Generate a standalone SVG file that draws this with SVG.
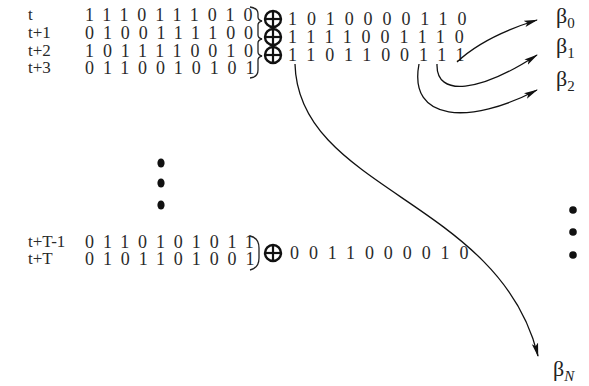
<svg xmlns="http://www.w3.org/2000/svg" width="589" height="386" viewBox="0 0 589 386">
  <style>
    .lbl { font-family: "Liberation Serif", "Times New Roman", serif; font-size: 17px; fill: #2a2a2a; }
    .bits { font-family: "Liberation Serif", "Times New Roman", serif; font-size: 18px; fill: #2a2a2a; letter-spacing: 8.9px; }
    .res { font-family: "Liberation Serif", "Times New Roman", serif; font-size: 18px; fill: #2a2a2a; letter-spacing: 9.9px; }
    .beta { font-family: "Liberation Serif", "Times New Roman", serif; font-size: 22px; fill: #222; }
    .sub { font-size: 15px; }
    .brace { fill: none; stroke: #222; stroke-width: 1.3; }
    .xor circle { fill: none; stroke: #111; stroke-width: 2.4; }
    .xor line { stroke: #111; stroke-width: 2.2; }
    .edge { fill: none; stroke: #111; stroke-width: 1.3; }
    .dot { fill: #111; }
  </style>
  <defs>
    <marker id="arrow" viewBox="0 0 14 8" refX="13" refY="4" markerWidth="14" markerHeight="8" markerUnits="userSpaceOnUse" orient="auto">
      <path d="M0,0.8 L14,4 L0,7.2 L3,4 Z" fill="#111"/>
    </marker>
  </defs>

  <!-- time-step rows of bits -->
  <g id="rows">
    <text class="lbl" x="28" y="20">t</text>
    <text class="lbl" x="28" y="38">t+1</text>
    <text class="lbl" x="28" y="56">t+2</text>
    <text class="lbl" x="28" y="73">t+3</text>
    <text class="bits" x="85" y="21">1110111010</text>
    <text class="bits" x="85" y="39">0100111100</text>
    <text class="bits" x="85" y="57">1011110010</text>
    <text class="bits" x="85" y="74">0110010101</text>

    <text class="lbl" x="28" y="247">t+T-1</text>
    <text class="lbl" x="28" y="264">t+T</text>
    <text class="bits" x="85" y="248">0110101011</text>
    <text class="bits" x="85" y="265">0101101001</text>
  </g>

  <!-- pairing braces -->
  <g id="braces">
    <path class="brace" d="M250,7 Q258,8 258,14 L258,17 Q258,20 262,21 Q258,22 258,25 L258,35 Q258,38 262,39 Q258,40 258,43 L258,52 Q258,55 262,56 Q258,57 258,60 L258,70 Q258,77 250,78"/>
    <path class="brace" d="M250,236 Q259,238 259,248 L259,258 Q259,268 250,270"/>
  </g>

  <!-- XOR operators -->
  <g id="xor1" class="xor">
    <circle cx="273" cy="19" r="8"/><line x1="265" y1="19" x2="281" y2="19"/><line x1="273" y1="11" x2="273" y2="27"/>
  </g>
  <g id="xor2" class="xor">
    <circle cx="273" cy="37" r="8"/><line x1="265" y1="37" x2="281" y2="37"/><line x1="273" y1="29" x2="273" y2="45"/>
  </g>
  <g id="xor3" class="xor">
    <circle cx="273" cy="55" r="8"/><line x1="265" y1="55" x2="281" y2="55"/><line x1="273" y1="47" x2="273" y2="63"/>
  </g>
  <g id="xorT" class="xor">
    <circle cx="273" cy="253" r="8"/><line x1="265" y1="253" x2="281" y2="253"/><line x1="273" y1="245" x2="273" y2="261"/>
  </g>

  <!-- XOR results -->
  <g id="results">
    <text class="res" x="288" y="25">1010000110</text>
    <text class="res" x="288" y="43">1111001110</text>
    <text class="res" x="288" y="61">1101100111</text>
    <text class="res" x="290" y="259">0011000010</text>
  </g>

  <!-- ellipsis dots -->
  <g id="dots-left">
    <ellipse class="dot" cx="161" cy="163" rx="3.6" ry="4.6"/>
    <ellipse class="dot" cx="161" cy="183" rx="3.6" ry="4.6"/>
    <ellipse class="dot" cx="161" cy="205" rx="3.6" ry="4.6"/>
  </g>
  <g id="dots-right">
    <circle class="dot" cx="573" cy="210" r="3.8"/>
    <circle class="dot" cx="573" cy="232" r="3.8"/>
    <circle class="dot" cx="573" cy="255" r="3.8"/>
  </g>

  <!-- output labels -->
  <g id="beta0"><text class="beta" x="556" y="23">β<tspan class="sub" dy="5">0</tspan></text></g>
  <g id="beta1"><text class="beta" x="556" y="53">β<tspan class="sub" dy="5">1</tspan></text></g>
  <g id="beta2"><text class="beta" x="556" y="86">β<tspan class="sub" dy="5">2</tspan></text></g>
  <g id="betaN"><text class="beta" x="553" y="376">β<tspan class="sub" dy="5" font-style="italic">N</tspan></text></g>

  <!-- connectors from selected bits to outputs -->
  <g id="connectors">
    <path class="edge" marker-end="url(#arrow)" d="M457,62 C475,45 505,30 537,20"/>
    <path class="edge" marker-end="url(#arrow)" d="M437,64 C436,98 480,92 537,55"/>
    <path class="edge" marker-end="url(#arrow)" d="M419,64 C408,122 470,125 537,90"/>
    <path class="edge" marker-end="url(#arrow)" d="M295,64 C298,190 500,200 538,356"/>
  </g>
</svg>
